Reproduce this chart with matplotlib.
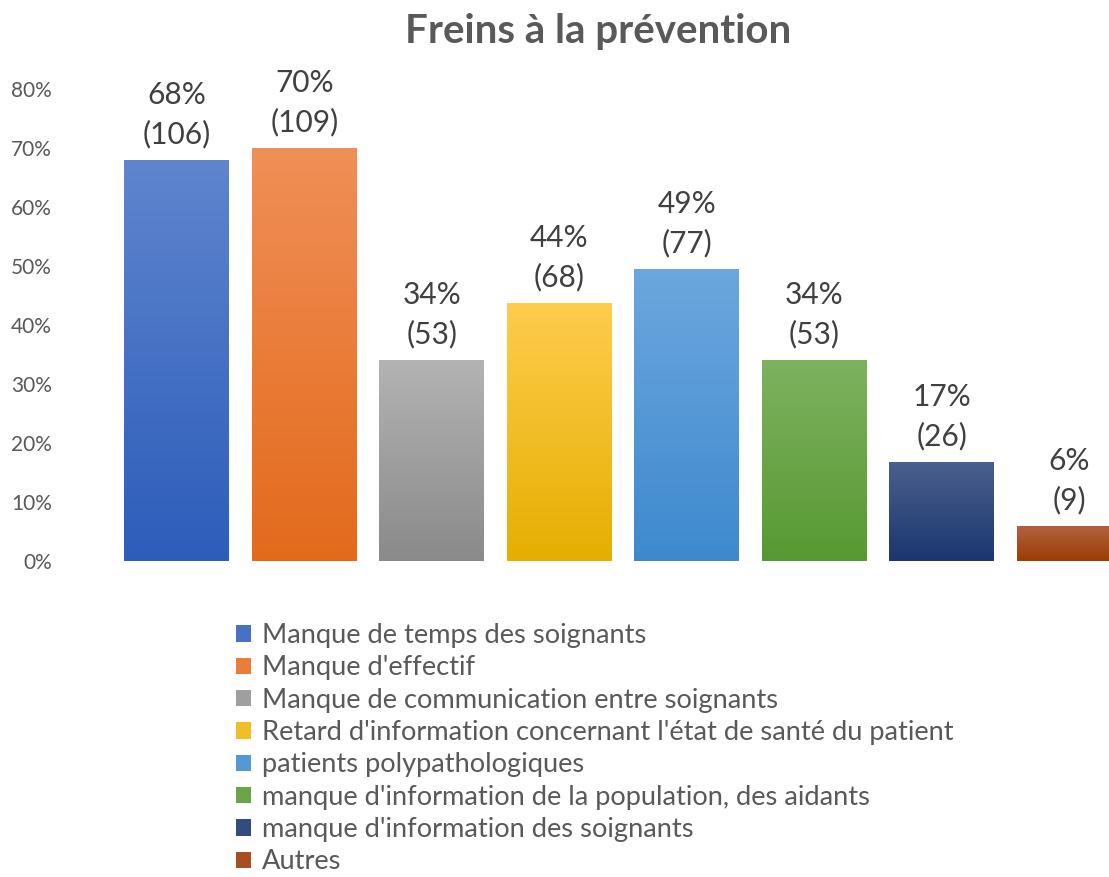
import numpy as np
import matplotlib
matplotlib.use('Agg')
import matplotlib.pyplot as plt
from matplotlib.colors import LinearSegmentedColormap, to_rgb
from matplotlib.patches import Patch
from matplotlib.ticker import PercentFormatter

plt.rcParams['font.family'] = ['Lato', 'DejaVu Sans']

# data
categories = ["Manque de temps des soignants",
              "Manque d'effectif",
              "Manque de communication entre soignants",
              "Retard d'information concernant l'état de santé du patient",
              "patients polypathologiques",
              "manque d'information de la population, des aidants",
              "manque d'information des soignants",
              "Autres"]
pcts = [0.679, 0.699, 0.340, 0.436, 0.494, 0.340, 0.167, 0.058]
counts = [106, 109, 53, 68, 77, 53, 26, 9]
pct_labels = ['68%', '70%', '34%', '44%', '49%', '34%', '17%', '6%']

# gradient colours (top, bottom) per bar
tops = ['#5F85CE', '#F08F57', '#B3B3B3', '#FFCC4D', '#6CA7DE', '#7DB260', '#4B5F8D', '#B1613F']
bottoms = ['#2C5DBA', '#E36A1B', '#8A8A8A', '#E5AF00', '#3E89CE', '#589932', '#1A376F', '#9D3D04']

fig = plt.figure(figsize=(11.09, 8.77), dpi=100)
ax = fig.add_axes([113/1109, 1 - 561/877, 1020/1109, 472/877])

x = np.arange(len(categories))
bars = ax.bar(x, pcts, width=0.82, color=bottoms, zorder=1)

grad = np.linspace(0, 1, 256).reshape(-1, 1)
for b, ct, cb in zip(bars, tops, bottoms):
    cmap = LinearSegmentedColormap.from_list('g', [cb, ct])
    ax.imshow(grad, cmap=cmap, origin='lower', aspect='auto', zorder=2,
              extent=[b.get_x(), b.get_x() + b.get_width(), 0, b.get_height()])

for xi, p, pl, c in zip(x, pcts, pct_labels, counts):
    ax.text(xi, p + 0.021, f'{pl}\n({c})', ha='center', va='bottom',
            fontsize=21.5, color='#404040', linespacing=1.45)

ax.set_xlim(-0.5, len(categories) - 0.5)
ax.set_ylim(0, 0.8)
ax.set_yticks(np.arange(0, 0.81, 0.1))
ax.yaxis.set_major_formatter(PercentFormatter(1.0, decimals=0))
ax.tick_params(axis='y', length=0, pad=44, labelsize=15, labelcolor='#595959')
ax.set_xticks([])
for s in ax.spines.values():
    s.set_visible(False)

fig.text(598/1109, 1 - 32/877, 'Freins à la prévention', ha='center', va='center',
         fontsize=29, fontweight='bold', color='#595959')

mids = []
for ct, cb in zip(tops, bottoms):
    mids.append(tuple((np.array(to_rgb(ct)) + np.array(to_rgb(cb))) / 2))
handles = [Patch(facecolor=c, edgecolor='none') for c in mids]
fig.legend(handles, categories, loc='upper left', bbox_to_anchor=(236/1109, 1 - 623/877),
           frameon=False, fontsize=19.6, labelcolor='#595959', handlelength=0.55,
           handleheight=0.55, handletextpad=0.4, labelspacing=0.27, borderpad=0,
           borderaxespad=0)

fig.savefig('out.png', dpi=100)
